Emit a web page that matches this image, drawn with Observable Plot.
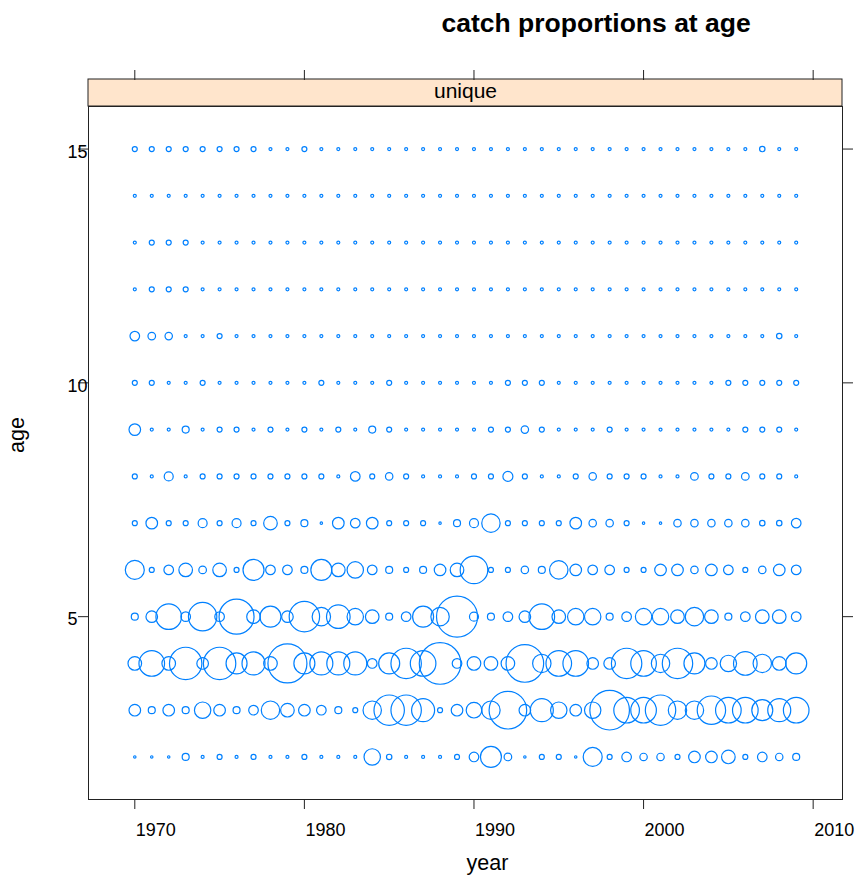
<!DOCTYPE html>
<html>
<head>
<meta charset="utf-8">
<script src="https://cdn.jsdelivr.net/npm/d3@7"></script>
<script src="https://cdn.jsdelivr.net/npm/@observablehq/plot@0.6"></script>
<style>
  html, body { margin: 0; padding: 0; background: #fff; }
  svg { display: block; }
</style>
</head>
<body>
<div id="chart"></div>
<script>
// ---- data (bubble sizes, one array per age) ----
const years = [1970,1971,1972,1973,1974,1975,1976,1977,1978,1979,
               1980,1981,1982,1983,1984,1985,1986,1987,1988,1989,
               1990,1991,1992,1993,1994,1995,1996,1997,1998,1999,
               2000,2001,2002,2003,2004,2005,2006,2007,2008,2009];
const ages = [2,3,4,5,6,7,8,9,10,11,12,13,14,15];

const age2  = [1.7,1.7,1.7,4,2,3,2,3,2,2,3,2,2,2,8.7,3.2,2,2,2,3,
               5.3,11,4.3,1.7,3,3,1.7,10,3,5.3,4.2,4.2,3,6.3,6.3,7.3,3,5.3,4.2,4];
const age3  = [6.3,4,6.3,4,8.7,6.3,4,5.3,9.7,7.3,6.3,5.3,4,3,9.7,15.7,15.7,12,3,6.3,
               8.3,9.7,19.3,6.3,12,8.7,6.3,8.7,20.3,13.3,13.3,15.7,9.7,9.7,14.7,13.3,13.3,11,12,13.3];
const age4  = [7.3,13.3,7.3,16.7,6.3,16.7,11,12,7.3,20,11,12,12,12,5.3,11,15.7,13.3,21.3,5.3,
               7.3,7.3,7.3,19.3,9.7,13.3,13.3,6.3,6.3,15.7,13.3,9.7,15.7,11,6.3,8.7,12.3,9.7,7.3,11];
const age5  = [4,6.3,13.3,5.3,14.7,5.3,18,7.3,11,6.3,15.7,9.7,12.3,8.7,7.3,4,5.3,11,9.7,21,
               5,4,5.3,6.3,13.3,7.3,8.7,8.7,4,5.3,8.7,8.7,7.3,9.7,7.3,4,5.3,7.3,7.3,5.3];
const age6  = [10,3,5.3,7.3,4.3,7.3,3,11,5.3,5.3,4,11,7.3,8.7,5.3,4,3,4,6.3,7.3,
               14.3,3,3,4.2,4,9.7,6.3,5.3,5.3,3,3,6.3,6.3,4.2,6.3,5.3,3,4.2,6.3,5.3];
const age7  = [3,6.3,3,3,5,3,5,3,7.3,3,4,1.7,6.3,5.3,6.3,3,3,3,1.7,4,
               5,9.7,3,3,3,3,6.3,4.2,4.2,3,1.7,1.7,4.2,4.2,4.2,4.2,4.2,3.2,3.2,5.3];
const age8  = [3,2,5,2,3,3,3,3,3,3,3,3,2,5.3,3,4.2,3,2,2,2,
               3,3,5.5,3,2,2,3,4.2,3,3,3,2,2,4.3,3,3,4.3,3,3,2];
const age9  = [6.3,2,2,4,2,3,3,2,3,2,3,2,3,2,4,3,2,2,2,2,
               2,3,3,4.2,3,2,2,2,3,2,2,2,2,2,2,2,3,3,3,2];
const age10 = [3,3,2,2,3,2,2,2,2,2,2,3,2,2,2,3,2,2,2,2,
               2,2,3,3,3,2,2,2,2,2,2,2,2,2,2,3,3,3,3,3];
const age11 = [5.3,4.3,4.2,2,2,3,2,2,2,2,2,2,2,2,2,2,2,2,2,2,
               2,2,2,2,2,2,2,2,2,2,2,2,2,2,2,2,2,2,3.2,2];
const age12 = [2,3,3,3,2,2,2,2,2,2,2,2,2,2,2,2,2,2,2,2,
               2,2,2,2,2,2,2,2,2,2,2,2,2,2,2,2,2,2,2,2];
const age13 = [2,3,3,3,2,2,2,2,2,2,2,2,2,2,2,2,2,2,2,2,
               2,2,2,2,2,2,2,2,2,2,2,2,2,2,2,2,2,2,2,2];
const age14 = [2,2,2,2,2,2,2,2,2,2,2,2,2,2,2,2,2,2,2,2,
               2,2,2,2,2,2,2,2,2,2,2,2,2,2,2,2,2,2,2,2];
const age15 = [3,3,3,3,3,3,3,3,2,2,3,2,2,2,2,2,2,2,2,2,
               2,2,2,2,2,2,2,2,2,2,2,2,2,2,2,2,2,3.2,2,2];

const xTicks = [1970, 1980, 1990, 2000, 2010];
const yTicks = [5, 10, 15];
const titleText = "catch proportions at age";
const stripText = "unique";
const xLabel = "year";
const yLabel = "age";

// ---- build table ----
const byAge = [age2, age3, age4, age5, age6, age7, age8, age9, age10, age11, age12, age13, age14, age15];
const data = ages.flatMap((a, j) => years.map((yr, i) => ({year: yr, age: a, size: byAge[j][i]})));

const STRIP_H = 27;
const ink = "#222";

function stripMark(index, scales, values, dims) {
  const {width, marginLeft, marginRight, marginTop} = dims;
  return d3.create("svg:rect")
    .attr("x", marginLeft)
    .attr("y", marginTop - STRIP_H)
    .attr("width", width - marginLeft - marginRight)
    .attr("height", STRIP_H)
    .attr("fill", "#ffe5cc")
    .attr("stroke", ink)
    .attr("stroke-width", 1)
    .node();
}

const chart = Plot.plot({
  width: 859,
  height: 881,
  marginLeft: 88,
  marginRight: 17,
  marginTop: 106,
  marginBottom: 82,
  style: {fontFamily: "'Liberation Sans', Arial, Helvetica, sans-serif", fontSize: "18px", background: "#fff", color: "#000"},
  x: {domain: [1967.27, 2011.73], label: null},
  y: {domain: [1.09, 15.91], label: null},
  r: {type: "linear", domain: [1, 21], range: [0.5, 20.5]},
  marks: [
    stripMark,
    Plot.text([stripText], {frameAnchor: "top", dy: -8.5, lineAnchor: "bottom", fontSize: 21, fill: "#000"}),
    Plot.text([titleText], {frameAnchor: "top-left", dx: 353, dy: -75, lineAnchor: "bottom", textAnchor: "start", fontSize: 26.5, fontWeight: "bold", fill: "#000"}),
    Plot.frame({stroke: ink}),
    // tick marks
    Plot.axisX(xTicks, {anchor: "bottom", tickSize: 10, fill: "none", stroke: ink, label: null}),
    Plot.axisX(xTicks, {anchor: "top", tickSize: 10, fill: "none", stroke: ink, dy: -STRIP_H, label: null}),
    Plot.axisY(yTicks, {anchor: "left", tickSize: 10, fill: "none", stroke: ink, label: null}),
    Plot.axisY(yTicks, {anchor: "right", tickSize: 10, fill: "none", stroke: ink, label: null}),
    // tick labels
    Plot.axisX(xTicks, {anchor: "bottom", tickSize: 0, tickPadding: 24, textAnchor: "start", dx: 1, fontSize: 18, fill: "#000", label: null, tickFormat: d => String(d)}),
    Plot.axisY(yTicks, {anchor: "left", tickSize: 0, tickPadding: 21, textAnchor: "start", dy: 3, fontSize: 18, fill: "#000", label: null, tickFormat: d => String(d)}),
    // axis titles
    Plot.text([xLabel], {frameAnchor: "bottom", textAnchor: "start", lineAnchor: "bottom", dx: 1, dy: 70, fontSize: 21.5, fill: "#000"}),
    Plot.text([yLabel], {frameAnchor: "left", rotate: -90, textAnchor: "start", lineAnchor: "bottom", dx: -64.4, fontSize: 21.5, fill: "#000"}),
    // bubbles
    Plot.dot(data, {x: "year", y: "age", r: "size", stroke: "#0080ff", strokeWidth: 1.2, fill: "none"})
  ]
});

document.getElementById("chart").append(chart);
</script>
</body>
</html>
